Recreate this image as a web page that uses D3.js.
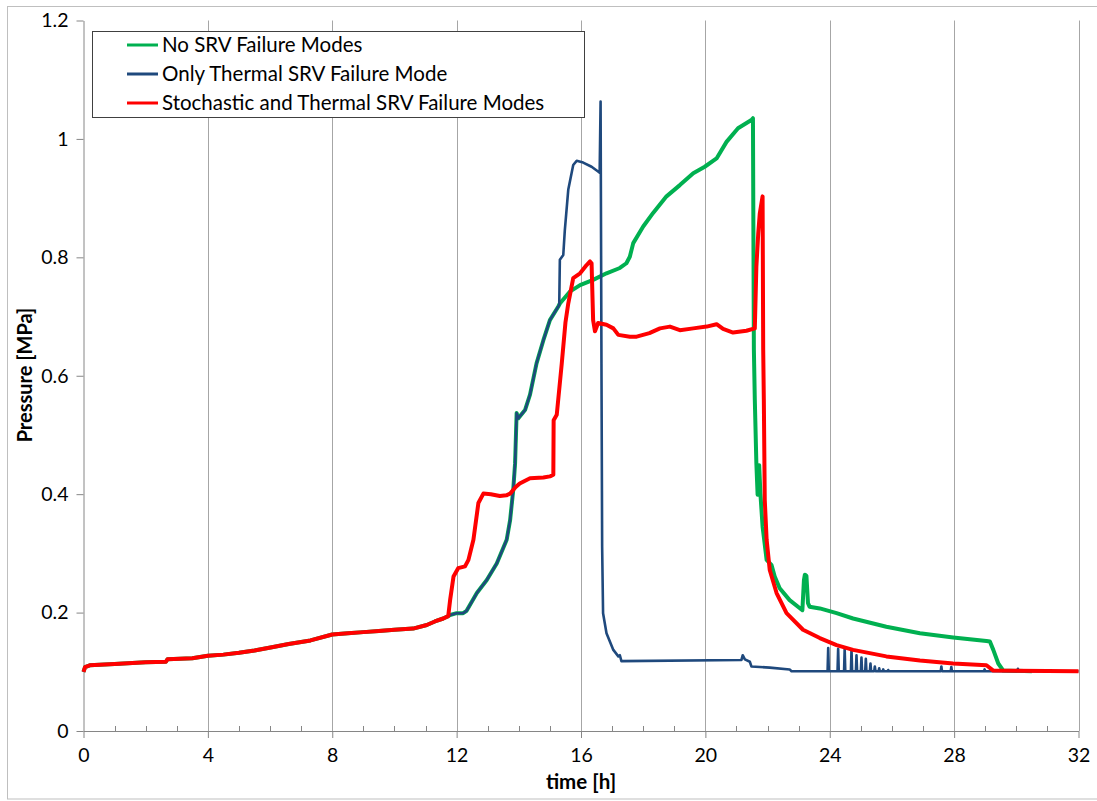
<!DOCTYPE html>
<html>
<head>
<meta charset="utf-8">
<script src="https://cdn.jsdelivr.net/npm/d3@7"></script>
<style>
  html, body { margin: 0; padding: 0; background: #fff; }
  svg { display: block; }
  text { font-family: Lato, "Open Sans", "Noto Sans", sans-serif; fill: #000; }
</style>
</head>
<body>
<svg id="chart" width="1097" height="801"></svg>
<script>
// ---------------- data ----------------
const xTicks = [0, 4, 8, 12, 16, 20, 24, 28, 32];
const yTicks = [0, 0.2, 0.4, 0.6, 0.8, 1, 1.2];
const seriesNames = ["No SRV Failure Modes", "Only Thermal SRV Failure Mode", "Stochastic and Thermal SRV Failure Modes"];
const seriesColors = ["#00B050", "#1F497D", "#FF0000"];

// common part of all three runs (0 - 11.7 h)
const commonStart = [
  [0, 0.100], [0.05, 0.108], [0.2, 0.111], [1, 0.113], [2, 0.116], [2.65, 0.117], [2.7, 0.121],
  [3.5, 0.123], [4, 0.127], [4.5, 0.129], [5, 0.132], [5.5, 0.136], [6.1, 0.142], [6.6, 0.147],
  [7.3, 0.153], [8, 0.163], [8.5, 0.165], [9, 0.167], [9.5, 0.169], [10, 0.171], [10.6, 0.173],
  [11.04, 0.179], [11.3, 0.185], [11.57, 0.190], [11.73, 0.194]
];
// common part of "No SRV" and "Only Thermal" runs (11.7 - 15.3 h)
const commonMid = [
  [11.79, 0.196], [12.0, 0.199], [12.21, 0.199], [12.32, 0.203], [12.65, 0.233], [12.97, 0.255],
  [13.29, 0.283], [13.61, 0.323], [13.72, 0.356], [13.82, 0.407], [13.88, 0.452], [13.93, 0.537],
  [13.98, 0.528], [14.2, 0.542], [14.36, 0.568], [14.57, 0.621], [14.79, 0.660], [15.0, 0.694],
  [15.27, 0.717]
];
const noFailureTail = [
  [15.32, 0.722], [15.64, 0.742], [15.97, 0.753], [16.39, 0.762], [16.82, 0.773], [17.25, 0.782],
  [17.46, 0.790], [17.57, 0.801], [17.68, 0.824], [18.0, 0.852], [18.32, 0.875], [18.75, 0.903],
  [19.18, 0.922], [19.61, 0.942], [19.98, 0.953], [20.36, 0.967], [20.68, 0.995], [21.05, 1.018],
  [21.48, 1.032], [21.53, 1.035], [21.56, 0.644], [21.59, 0.559], [21.64, 0.452], [21.68, 0.399],
  [21.73, 0.449], [21.77, 0.401], [21.84, 0.345], [21.97, 0.289], [22.13, 0.280], [22.23, 0.261],
  [22.39, 0.241], [22.71, 0.221], [23.12, 0.204], [23.17, 0.255], [23.2, 0.264], [23.25, 0.262],
  [23.3, 0.216], [23.35, 0.210], [23.68, 0.207], [24.22, 0.199], [24.75, 0.190], [25.82, 0.176],
  [26.9, 0.165], [27.97, 0.158], [29.04, 0.152], [29.15, 0.151], [29.26, 0.137], [29.42, 0.114],
  [29.58, 0.102], [30.5, 0.101]
];
const thermalTail = [
  [15.3, 0.720], [15.32, 0.796], [15.43, 0.804], [15.48, 0.846], [15.59, 0.914], [15.75, 0.956],
  [15.86, 0.963], [16.07, 0.960], [16.34, 0.953], [16.55, 0.945], [16.6, 0.943], [16.63, 1.063],
  [16.66, 0.593], [16.68, 0.311], [16.71, 0.199], [16.82, 0.165], [17.04, 0.137], [17.2, 0.126],
  [17.25, 0.128], [17.3, 0.118], [21.16, 0.120], [21.2, 0.128], [21.27, 0.121], [21.43, 0.117],
  [21.48, 0.109], [22.07, 0.107], [22.71, 0.104], [22.77, 0.101],
  [23.93, 0.101], [23.95, 0.140], [23.97, 0.101], [24.25, 0.101], [24.27, 0.139], [24.29, 0.101],
  [24.46, 0.101], [24.48, 0.139], [24.5, 0.101], [24.68, 0.101], [24.7, 0.137], [24.72, 0.101],
  [24.84, 0.101], [24.86, 0.128], [24.88, 0.101], [25.0, 0.101], [25.02, 0.124], [25.04, 0.101],
  [25.14, 0.101], [25.16, 0.122], [25.18, 0.101], [25.29, 0.101], [25.31, 0.114], [25.33, 0.101],
  [25.43, 0.101], [25.45, 0.109], [25.47, 0.101], [25.57, 0.101], [25.59, 0.106], [25.61, 0.101],
  [25.7, 0.101], [25.72, 0.104], [25.74, 0.101], [25.86, 0.101], [25.88, 0.103], [25.9, 0.101],
  [27.57, 0.101], [27.59, 0.109], [27.61, 0.101], [27.89, 0.101], [27.91, 0.108], [27.93, 0.101],
  [28.96, 0.101], [28.98, 0.104], [29.0, 0.101], [30.03, 0.101], [30.05, 0.105], [30.07, 0.101],
  [32, 0.101]
];
const stochasticTail = [
  [11.79, 0.221], [11.9, 0.261], [12.05, 0.275], [12.27, 0.278], [12.38, 0.289], [12.54, 0.323],
  [12.7, 0.385], [12.86, 0.401], [13.1, 0.400], [13.39, 0.397], [13.6, 0.398], [13.72, 0.401],
  [13.9, 0.412], [14.03, 0.418], [14.36, 0.427], [14.79, 0.428], [15.0, 0.430], [15.11, 0.433],
  [15.12, 0.525], [15.22, 0.534], [15.38, 0.620], [15.5, 0.690], [15.59, 0.722], [15.75, 0.765],
  [15.97, 0.773], [16.18, 0.787], [16.29, 0.793], [16.34, 0.790], [16.39, 0.694], [16.45, 0.675],
  [16.55, 0.689], [16.82, 0.686], [17.04, 0.680], [17.2, 0.669], [17.57, 0.666], [17.79, 0.666],
  [18.2, 0.672], [18.54, 0.680], [18.86, 0.683], [19.18, 0.677], [19.61, 0.680], [20.04, 0.683],
  [20.36, 0.687], [20.57, 0.679], [20.89, 0.673], [21.32, 0.676], [21.59, 0.680], [21.64, 0.784],
  [21.7, 0.840], [21.75, 0.874], [21.84, 0.903], [21.86, 0.644], [21.88, 0.560], [21.91, 0.390],
  [21.97, 0.323], [22.07, 0.272], [22.29, 0.233], [22.61, 0.199], [23.14, 0.171], [23.68, 0.157],
  [24.22, 0.145], [24.75, 0.137], [25.82, 0.126], [26.9, 0.119], [27.97, 0.114], [29.04, 0.111],
  [29.26, 0.102], [32, 0.101]
];

// ---------------- chart ----------------
const svg = d3.select("#chart");
const plot = { left: 83.5, right: 1078.5, top: 20.5, bottom: 731 };

const x = d3.scaleLinear().domain([0, 32]).range([plot.left, plot.right]);
const y = d3.scaleLinear().domain([0, 1.2]).range([plot.bottom, plot.top]);

// outer chart border
svg.append("rect")
  .attr("x", 7.5).attr("y", 6.5).attr("width", 1100).attr("height", 792.5)
  .attr("fill", "none").attr("stroke", "#BFBFBF").attr("stroke-width", 1);

// vertical gridlines
svg.append("g").selectAll("line").data(xTicks.filter(d => d > 0)).join("line")
  .attr("x1", d => Math.round(x(d)) + 0.5).attr("x2", d => Math.round(x(d)) + 0.5)
  .attr("y1", plot.top).attr("y2", plot.bottom)
  .attr("stroke", "#A6A6A6").attr("stroke-width", 1);

// x axis
const xAxis = svg.append("g").attr("transform", `translate(0,${plot.bottom})`)
  .call(d3.axisBottom(x).tickValues(xTicks).tickSize(7).tickSizeOuter(0).tickPadding(10)
    .tickFormat(d3.format("d")));
xAxis.select(".domain").attr("stroke", "#868686");
xAxis.selectAll(".tick line").attr("stroke", "#868686");
xAxis.selectAll(".tick text").attr("font-size", 19.5).attr("fill", "#000");
// minor ticks (inside)
svg.append("g").selectAll("line").data(d3.range(0, 33).filter(d => d % 4 !== 0)).join("line")
  .attr("x1", d => Math.round(x(d)) + 0.5).attr("x2", d => Math.round(x(d)) + 0.5)
  .attr("y1", plot.bottom).attr("y2", plot.bottom - 5)
  .attr("stroke", "#868686");

// y axis
const yAxis = svg.append("g").attr("transform", `translate(${plot.left},0)`)
  .call(d3.axisLeft(y).tickValues(yTicks).tickSize(7).tickSizeOuter(0).tickPadding(8)
    .tickFormat(d => d3.format("")(+d.toFixed(1))));
yAxis.select(".domain").attr("stroke", "#868686");
yAxis.selectAll(".tick line").attr("stroke", "#868686");
yAxis.selectAll(".tick text").attr("font-size", 19.5).attr("fill", "#000");

// axis titles
svg.append("text").attr("x", 581).attr("y", 789).attr("text-anchor", "middle")
  .attr("font-size", 20.5).attr("font-weight", "bold").text("time [h]");
svg.append("text").attr("transform", "translate(32,375) rotate(-90)").attr("text-anchor", "middle")
  .attr("font-size", 20).attr("font-weight", "bold").text("Pressure [MPa]");

// lines
const line = d3.line().x(d => x(d[0])).y(d => y(d[1]));
const series = [
  commonStart.concat(commonMid, noFailureTail),
  commonStart.concat(commonMid, thermalTail),
  commonStart.concat(stochasticTail)
];
const widths = [4, 2.6, 4];
const g = svg.append("g");
series.forEach((s, i) => {
  g.append("path").datum(s).attr("d", line)
    .attr("fill", "none").attr("stroke", seriesColors[i]).attr("stroke-width", widths[i])
    .attr("stroke-linejoin", "round");
});

// legend
const lg = svg.append("g");
lg.append("rect").attr("x", 92.5).attr("y", 31.5).attr("width", 492).attr("height", 86)
  .attr("fill", "#fff").attr("stroke", "#404040").attr("stroke-width", 1);
seriesNames.forEach((n, i) => {
  const cy = 45 + i * 29;
  lg.append("line").attr("x1", 127).attr("x2", 158).attr("y1", cy).attr("y2", cy)
    .attr("stroke", seriesColors[i]).attr("stroke-width", 3);
  lg.append("text").attr("x", 162).attr("y", cy).attr("dy", "0.35em")
    .attr("font-size", 20.5).text(n);
});
</script>
</body>
</html>
